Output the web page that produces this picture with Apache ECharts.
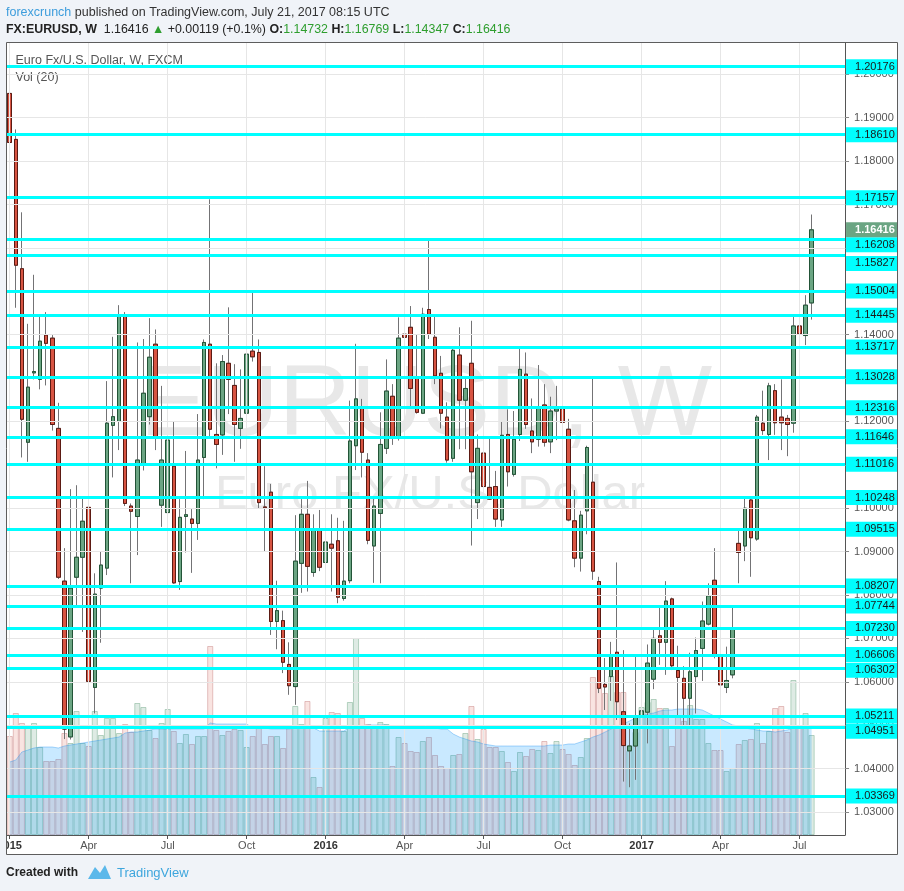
<!DOCTYPE html>
<html><head><meta charset="utf-8">
<script src="https://cdn.jsdelivr.net/npm/echarts@6/dist/echarts.min.js"></script>
<style>html,body{margin:0;padding:0;background:#f0f3f8;}#c{width:904px;height:891px;}</style>
</head><body><div id="c"></div>
<script>
// ---- data (weekly EURUSD, FXCM) ----
const firstWeek = '2015-01-04';
const blankWeeks = 5;
const opens = [1.1956,1.1850,1.1552,1.1152,1.1312,1.1297,1.1399,1.1392,1.1184,1.0832,
1.0473,1.0841,1.0887,1.1002,1.0587,1.0816,1.0862,1.1191,1.1200,1.1445,
1.1005,1.0981,1.1100,1.1211,1.1378,1.1007,1.0990,1.1097,1.0831,1.0981,
1.0975,1.0965,1.1117,1.1378,1.1170,1.1169,1.1334,1.1283,1.1184,1.1219,
1.1362,1.1359,1.1003,1.1037,1.0739,1.0741,1.0640,1.0589,1.0873,1.0986,
1.0852,1.0952,1.0875,1.0917,1.0925,1.0792,1.0833,1.1144,1.1230,1.1111,
1.0913,1.0988,1.1138,1.1258,1.1161,1.1401,1.1417,1.1301,1.1219,1.1458,
1.1394,1.1311,1.1210,1.1115,1.1353,1.1249,1.1334,1.1013,1.1127,1.1048,
1.1050,1.0973,1.1170,1.1078,1.1170,1.1309,1.1178,1.1159,1.1238,1.1153,
1.1224,1.1229,1.1182,1.0971,1.0885,1.0994,1.1060,1.0831,1.0594,1.0612,
1.0668,1.0531,1.0441,1.0452,1.0518,1.0530,1.0606,1.0706,1.0691,1.0791,
1.0626,1.0608,1.0562,1.0612,1.0677,1.0733,1.0834,1.0659,1.0587,1.0616,
1.0919,1.0913,1.1019,1.0929,1.1196,1.1170,1.1271,1.1210,1.1207,1.1196,
1.1420,1.1398,1.14732];
const highs = [1.1978,1.1873,1.1682,1.1425,1.1538,1.1444,1.1452,1.1399,1.1243,1.0908,
1.1044,1.1053,1.1023,1.1037,1.0850,1.0901,1.1293,1.1395,1.1468,1.1452,
1.1011,1.1382,1.1390,1.1438,1.1412,1.1282,1.1220,1.1199,1.1021,1.1132,
1.0998,1.1217,1.1389,1.1712,1.1334,1.1353,1.1463,1.1332,1.1320,1.1389,
1.1498,1.1389,1.1097,1.1056,1.0833,1.0764,1.0691,1.0984,1.1021,1.1063,
1.0986,1.0996,1.0986,1.0986,1.0978,1.0971,1.1248,1.1379,1.1252,1.1127,
1.1024,1.1221,1.1343,1.1286,1.1440,1.1457,1.1466,1.1401,1.1462,1.1618,
1.1444,1.1351,1.1244,1.1369,1.1417,1.1303,1.1432,1.1170,1.1190,1.1163,
1.1086,1.1199,1.1228,1.1224,1.1369,1.1359,1.1253,1.1330,1.1286,1.1257,
1.1282,1.1248,1.1206,1.1042,1.0994,1.1144,1.1301,1.0842,1.0655,1.0692,
1.0875,1.0673,1.0504,1.0658,1.0625,1.0686,1.0721,1.0771,1.0832,1.0794,
1.0683,1.0636,1.0667,1.0702,1.0785,1.0827,1.0908,1.0692,1.0681,1.0773,
1.0950,1.1028,1.1024,1.1215,1.1271,1.1289,1.1286,1.1297,1.1215,1.1443,
1.1441,1.1491,1.16769];
const lows = [1.1758,1.1462,1.1117,1.1107,1.1297,1.1274,1.1283,1.1179,1.0837,1.0468,
1.0467,1.0772,1.0715,1.0570,1.0527,1.0690,1.0846,1.1071,1.1134,1.1005,
1.0827,1.0892,1.1087,1.1193,1.1134,1.0957,1.0921,1.0826,1.0812,1.0898,
1.0851,1.0927,1.1021,1.1161,1.1092,1.1123,1.1217,1.1107,1.1137,1.1174,
1.1338,1.1000,1.0900,1.0708,1.0675,1.0620,1.0570,1.0547,1.0805,1.0808,
1.0842,1.0855,1.0754,1.0808,1.0781,1.0787,1.0827,1.1088,1.1071,1.0917,
1.0828,1.0827,1.1125,1.1146,1.1156,1.1330,1.1232,1.1218,1.1217,1.1390,
1.1286,1.1184,1.1105,1.1107,1.1136,1.1136,1.0914,1.0975,1.1005,1.1019,
1.0957,1.0957,1.1050,1.1073,1.1155,1.1183,1.1127,1.1142,1.1142,1.1127,
1.1157,1.1107,1.0970,1.0864,1.0854,1.0940,1.0835,1.0574,1.0535,1.0556,
1.0512,1.0370,1.0357,1.0374,1.0343,1.0458,1.0583,1.0639,1.0616,1.0627,
1.0520,1.0500,1.0500,1.0527,1.0602,1.0730,1.0654,1.0585,1.0574,1.0608,
1.0827,1.0878,1.0842,1.0925,1.1169,1.1111,1.1169,1.1134,1.1120,1.1174,
1.1315,1.1376,1.14347];
const closes = [1.1843,1.1560,1.1205,1.1279,1.1315,1.1385,1.1380,1.1193,1.0841,1.0491,
1.0816,1.0887,1.0970,1.0601,1.0802,1.0869,1.1196,1.1211,1.1445,1.1011,
1.0993,1.1111,1.1265,1.1348,1.1161,1.1111,1.1157,1.0828,1.0979,1.0985,
1.0965,1.1111,1.1382,1.1182,1.1147,1.1338,1.1297,1.1193,1.1207,1.1355,
1.1349,1.1013,1.1001,1.0739,1.0764,1.0645,1.0591,1.0878,1.0986,1.0866,
1.0952,1.0864,1.0922,1.0908,1.0795,1.0832,1.1155,1.1252,1.1129,1.0926,
1.1005,1.1147,1.1270,1.1161,1.1392,1.1394,1.1276,1.1221,1.1447,1.1401,
1.1305,1.1219,1.1111,1.1364,1.1249,1.1276,1.1084,1.1138,1.1050,1.1021,
1.0975,1.1168,1.1084,1.1159,1.1320,1.1193,1.1153,1.1233,1.1152,1.1224,
1.1229,1.1198,1.0973,1.0885,1.0984,1.1140,1.0855,1.0585,1.0588,1.0662,
1.0554,1.0453,1.0452,1.0518,1.0533,1.0643,1.0700,1.0691,1.0786,1.0637,
1.0610,1.0562,1.0623,1.0672,1.0740,1.0798,1.0659,1.0593,1.0603,1.0723,
1.0898,1.1000,1.0932,1.1210,1.1179,1.1282,1.1197,1.1197,1.1193,1.1420,
1.1402,1.1468,1.16416];
const volumes = [99,122,112,107,112,88,74,74,76,102,
92,124,92,89,124,100,117,117,102,111,
103,132,128,105,97,112,126,104,92,101,
91,99,99,189,105,100,104,106,105,88,
99,107,91,99,99,87,110,129,111,134,
58,48,117,123,122,104,133,197,117,111,
107,113,111,69,98,92,84,83,94,98,
80,69,67,80,81,102,129,96,106,88,
88,84,73,64,83,79,86,85,94,82,
94,86,81,70,78,97,158,153,142,159,
143,143,84,103,128,133,136,127,127,89,
118,114,130,116,116,92,85,85,64,67,
91,95,96,112,92,104,127,129,103,155,
109,122,100];
const volMA20 = [73,75,83,85,87,88,88,88,87,89,
90,91,92,93,94,95,96,97,98,102,
103,103,104,105,106,106,106,106,106,106,
106,106,106,112,111,111,111,111,111,111,
107,107,107,106,106,106,106,107,107,107,
107,104,104,104,104,104,108,108,108,110,
110,110,110,109,109,109,109,109,107,107,
107,106,106,101,98,96,94,93,91,90,
89,89,89,89,89,89,89,89,89,90,
90,90,91,91,93,95,98,100,103,106,
108,111,114,117,119,121,122,124,125,125,
126,126,126,126,125,122,119,116,113,110,
109,107,106,105,104,104,103,104,105,107,
107,107,107];
const levels = [1.20176,1.18610,1.17157,1.16208,1.15827,1.15004,1.14445,1.13717,1.13028,1.12316,
1.11646,1.11016,1.10248,1.09515,1.08207,1.07744,1.07230,1.06606,1.06302,1.05211,1.04951,1.03369];
const priceTicks = [1.03,1.04,1.05,1.06,1.07,1.08,1.09,1.10,1.11,1.12,1.13,1.14,1.15,1.16,1.17,1.18,1.19,1.20];
const xTickDates = ['2015-01-04','2015-04-05','2015-07-05','2015-10-04','2016-01-03','2016-04-03','2016-07-03','2016-10-02','2017-01-01','2017-04-02','2017-07-02'];
const xTickLabels = ['2015','Apr','Jul','Oct','2016','Apr','Jul','Oct','2017','Apr','Jul'];
const priceMin = 1.02469, priceMax = 1.20729;

// ---- build ----
const weeks = [];
{
  const d0 = new Date(firstWeek + 'T00:00:00Z');
  for (let i = 0; i < opens.length + blankWeeks; i++) {
    const d = new Date(d0.getTime() + i * 7 * 86400000);
    weeks.push(d.toISOString().slice(0, 10));
  }
}
const tickSet = new Set(xTickDates);
const n = opens.length;
const fullCandles = opens.map((o, i) => [o, closes[i], lows[i], highs[i]]);
const bodyCandles = opens.map((o, i) => [o, closes[i], Math.min(o, closes[i]), Math.max(o, closes[i])]);
const upVol = {color: 'rgba(107,165,131,0.22)', borderColor: 'rgba(107,165,131,0.45)', borderWidth: 1};
const dnVol = {color: 'rgba(215,84,66,0.16)', borderColor: 'rgba(190,110,110,0.40)', borderWidth: 1};
const volData = volumes.map((v, i) => ({value: v, itemStyle: closes[i] >= opens[i] ? upVol : dnVol}));
// label stacking on the price scale (pixels), as TradingView pushes overlapping tags apart
const nudge = {'1.16208': 6, '1.15827': 8, '1.06606': -1, '1.06302': 1.5, '1.04951': 4};
const FONT = 'Liberation Sans, Arial, sans-serif';

const chart = echarts.init(document.getElementById('c'), null, {renderer: 'canvas'});
const plotTop = 42.7, plotBottom = 835;
chart.setOption({
  animation: false,
  backgroundColor: 'transparent',
  grid: {left: 6.7, right: 904 - (6.7 + 6.075 * weeks.length), top: plotTop, bottom: 891 - plotBottom,
         containLabel: false, outerBoundsMode: 'none'},
  xAxis: {
    type: 'category', data: weeks, boundaryGap: true,
    axisLine: {show: true, lineStyle: {color: '#555', width: 1}},
    axisTick: {show: true, alignWithLabel: true, length: 4, interval: (i, v) => tickSet.has(v), lineStyle: {color: '#555'}},
    axisLabel: {
      interval: (i, v) => tickSet.has(v), margin: 5, color: '#555', fontSize: 11, fontFamily: FONT,
      formatter: v => { const t = xTickLabels[xTickDates.indexOf(v)]; return /^\d{4}$/.test(t) ? '{b|' + t + '}' : t; },
      rich: {b: {fontWeight: 'bold', color: '#333', fontSize: 11, fontFamily: FONT}}
    },
    splitLine: {show: false}
  },
  yAxis: [{
    type: 'value', position: 'right', min: priceMin, max: priceMax, scale: true,
    axisLine: {show: true, lineStyle: {color: '#555'}},
    axisTick: {show: true, length: 4, customValues: priceTicks, lineStyle: {color: '#888'}},
    axisLabel: {customValues: priceTicks, margin: 9, color: '#555', fontSize: 11, fontFamily: FONT, formatter: v => v.toFixed(5)},
    splitLine: {show: false}
  }, {
    type: 'value', min: 0, max: plotBottom - plotTop, show: false
  }],
  series: [
    { // grid lines
      type: 'line', data: weeks.map(() => null), z: 0, silent: true,
      markLine: {
        silent: true, symbol: 'none', animation: false, precision: 5,
        lineStyle: {color: '#e6e6e6', width: 1, type: 'solid'},
        label: {show: false},
        data: priceTicks.map(v => ({yAxis: v})).concat(xTickDates.map(d => ({xAxis: d})))
      }
    },
    {
      name: 'Volume', type: 'bar', xAxisIndex: 0, yAxisIndex: 1, data: volData,
      barWidth: '100%', barCategoryGap: '0%', z: 1, silent: true
    },
    {
      name: 'Vol MA 20', type: 'line', xAxisIndex: 0, yAxisIndex: 1, data: volMA20, z: 1.5,
      symbol: 'none', silent: true,
      lineStyle: {color: 'rgba(20,140,240,0.35)', width: 1},
      areaStyle: {color: 'rgba(0,150,255,0.30)'}
    },
    {
      name: 'wicks', type: 'candlestick', data: fullCandles, barWidth: 4, z: 3, silent: true,
      itemStyle: {color: '#6ba583', color0: '#d75442', borderColor: '#737375', borderColor0: '#737375', borderWidth: 1}
    },
    {
      name: 'EURUSD', type: 'candlestick', data: bodyCandles, barWidth: 4, z: 4, silent: true,
      itemStyle: {color: '#6ba583', color0: '#d75442', borderColor: '#225437', borderColor0: '#5b1a13', borderWidth: 1}
    },
    { // horizontal levels
      type: 'line', data: weeks.map(() => null), z: 5, silent: true,
      markLine: {
        silent: true, symbol: 'none', animation: false, precision: 5,
        lineStyle: {color: '#00ffff', width: 3, type: 'solid', opacity: 1},
        label: {
          show: true, position: 'end', distance: 1, formatter: p => Number(p.value).toFixed(5),
          backgroundColor: '#00ffff', color: '#1a1a1a', fontSize: 11, fontFamily: FONT,
          padding: [2, 3, 2, 9], lineHeight: 11
        },
        data: levels.map(v => ({yAxis: v, label: {offset: [0, nudge[v.toFixed(5)] || 0]}}))
      }
    },
    { // last price label
      type: 'line', data: weeks.map(() => null), z: 6, silent: true,
      markLine: {
        silent: true, symbol: 'none', animation: false, precision: 5,
        lineStyle: {color: 'rgba(0,0,0,0)', width: 0},
        label: {
          show: true, position: 'end', distance: 1, formatter: p => Number(p.value).toFixed(5),
          backgroundColor: '#6ba583', color: '#fff', fontWeight: 'bold', fontSize: 11, fontFamily: FONT,
          padding: [2, 3, 2, 9], lineHeight: 11
        },
        data: [{yAxis: closes[n - 1]}]
      }
    }
  ],
  graphic: {elements: [
    {type: 'rect', z: -100, silent: true, shape: {x: 6.5, y: 42.5, width: 891, height: 812}, style: {fill: '#ffffff'}},
    {type: 'text', z: -50, silent: true, style: {text: 'EURUSD, W', x: 426, y: 407, align: 'center', verticalAlign: 'middle', font: '100px ' + FONT, fill: '#e8e8e8'}},
    {type: 'text', z: -50, silent: true, style: {text: 'Euro FX/U.S. Dollar', x: 430, y: 495, align: 'center', verticalAlign: 'middle', font: '49px ' + FONT, fill: '#e8e8e8'}},
    {type: 'text', z: -40, silent: true, style: {text: 'Euro Fx/U.S. Dollar, W, FXCM', x: 15.5, y: 61, verticalAlign: 'middle', font: '12.5px ' + FONT, fill: '#555'}},
    {type: 'text', z: -40, silent: true, style: {text: 'Vol (20)', x: 15.5, y: 78, verticalAlign: 'middle', font: '12.5px ' + FONT, fill: '#555'}},
    {type: 'rect', z: 100, silent: true, shape: {x: 6.5, y: 42.5, width: 891, height: 812}, style: {fill: 'none', stroke: '#5d5d5d', lineWidth: 1}},
    {type: 'rect', z: 200, silent: true, shape: {x: 0, y: 835.5, width: 6, height: 20}, style: {fill: '#f0f3f8'}},
    {type: 'text', z: 100, silent: true, style: {
      x: 6, y: 13, verticalAlign: 'middle', font: '12.5px ' + FONT,
      text: '{a|forexcrunch}{b| published on TradingView.com, July 21, 2017 08:15 UTC}',
      rich: {a: {fill: '#3d9ddc', font: '12.5px ' + FONT}, b: {fill: '#333', font: '12.5px ' + FONT}}
    }},
    {type: 'text', z: 100, silent: true, style: {
      x: 6, y: 30, verticalAlign: 'middle', font: '12.4px ' + FONT,
      text: '{k|FX:EURUSD, W}{n|  1.16416 }{g|\u25B2}{n| +0.00119 (+0.1%) }{k|O:}{v|1.14732}{k| H:}{v|1.16769}{k| L:}{v|1.14347}{k| C:}{v|1.16416}',
      rich: {
        k: {fill: '#222', font: 'bold 12.4px ' + FONT},
        n: {fill: '#222', font: '12.4px ' + FONT},
        g: {fill: '#2e9e2e', font: '12.4px ' + FONT},
        v: {fill: '#2e9e2e', font: '12.4px ' + FONT}
      }
    }},
    {type: 'text', z: 100, silent: true, style: {text: 'Created with', x: 6, y: 873, verticalAlign: 'middle', font: 'bold 12px Liberation Sans Narrow, ' + FONT, fill: '#222'}},
    {type: 'polygon', z: 100, silent: true, shape: {points: [[88,879],[95,867],[100,873],[105,865],[111,879]]}, style: {fill: '#5bb8ea'}},
    {type: 'text', z: 100, silent: true, style: {text: 'TradingView', x: 117, y: 873, verticalAlign: 'middle', font: '13px Liberation Sans Narrow, ' + FONT, fill: '#3ea6dd'}}
  ]}
});
</script></body></html>
